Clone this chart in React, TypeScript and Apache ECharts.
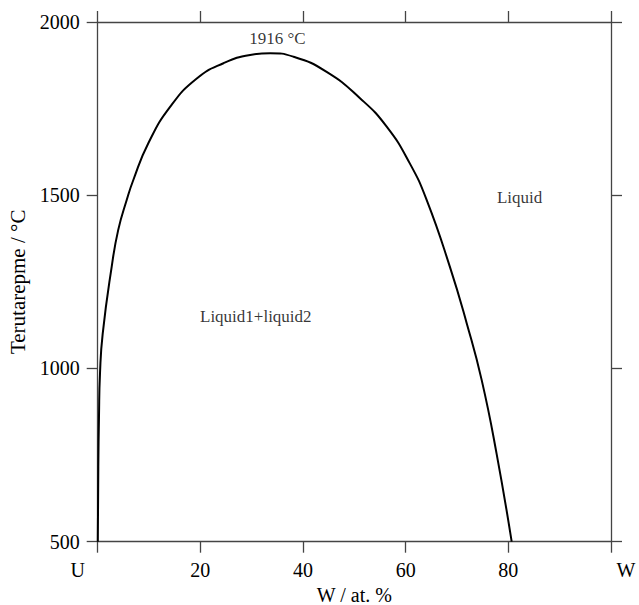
import React, { useEffect, useRef } from "react";
import * as echarts from "echarts";

// Miscibility gap boundary: composition (at.% W) vs temperature (°C)
const gapX = [0.02, 0.12, 0.25, 0.45, 0.97, 2.73, 4.0, 5.65, 6.94, 9.86, 14.1, 19.3, 24.5, 29.7, 33.6, 38.1, 44.6, 51.1, 56.3, 60.8, 64.1, 68.6, 71.9, 74.8, 77.7, 80.65];
const gapT = [500, 716, 860, 986, 1100, 1294, 1400, 1486, 1544, 1650, 1755, 1837, 1881, 1905, 1910, 1900, 1856, 1780, 1698, 1592, 1486, 1294, 1130, 967, 755, 500];

const xTickLabels: Record<number, string> = { 0: "U", 20: "20", 40: "40", 60: "60", 80: "80", 100: "W" };
const yTicks = [500, 1000, 1500, 2000];

const annoText = ["1916 °C", "Liquid1+liquid2", "Liquid"];
const annoX = [35.0, 30.8, 82.2];
const annoT = [1951, 1151, 1494];

const FONT = "'Liberation Serif', 'Times New Roman', serif";
const AXIS_COLOR = "#444";

export default function App() {
  const ref = useRef<HTMLDivElement>(null);
  useEffect(() => {
    if (!ref.current) return;
    document.body.style.margin = "0";
    const chart = echarts.init(ref.current, undefined, { renderer: "svg" });
    const axisLine = { show: true, onZero: false, lineStyle: { color: AXIS_COLOR, width: 1.3 } };
    const axisTick = { show: true, inside: false, length: 11, lineStyle: { color: AXIS_COLOR, width: 1.3 } };
    chart.setOption({
      animation: false,
      grid: { left: 97.7, right: 28, top: 22, bottom: 63.3, containLabel: false, outerBoundsMode: "none" },
      xAxis: [
        {
          type: "value",
          position: "bottom",
          min: 0,
          max: 100,
          interval: 20,
          axisLine,
          axisTick,
          splitLine: { show: false },
          axisLabel: {
            show: true,
            margin: 18,
            color: "#000",
            fontFamily: FONT,
            fontSize: 20,
            formatter: (v: number) => {
              const t = xTickLabels[v] ?? "";
              if (v === 0) return "{u|" + t + "}";
              if (v === 100) return "{w|" + t + "}";
              return t;
            },
            rich: {
              u: { fontFamily: FONT, fontSize: 20, color: "#000", padding: [0, 40, 0, 0] },
              w: { fontFamily: FONT, fontSize: 20, color: "#000", padding: [0, 0, 0, 30] },
            },
          },
          name: "W / at. %",
          nameLocation: "middle",
          nameGap: 41,
          nameTextStyle: { color: "#000", fontFamily: FONT, fontSize: 20 },
        },
        {
          type: "value",
          position: "top",
          min: 0,
          max: 100,
          interval: 20,
          axisLine,
          axisTick,
          axisLabel: { show: false },
          splitLine: { show: false },
        },
      ],
      yAxis: [
        {
          type: "value",
          position: "left",
          min: 500,
          max: 2000,
          interval: 500,
          axisLine,
          axisTick,
          splitLine: { show: false },
          axisLabel: {
            show: true,
            margin: 18,
            color: "#000",
            fontFamily: FONT,
            fontSize: 20,
            formatter: (v: number) => (yTicks.includes(v) ? String(v) : ""),
          },
          name: "Terutarepme / °C",
          nameLocation: "middle",
          nameGap: 67,
          nameTextStyle: { color: "#000", fontFamily: FONT, fontSize: 21 },
        },
        {
          type: "value",
          position: "right",
          min: 500,
          max: 2000,
          interval: 500,
          axisLine,
          axisTick,
          axisLabel: { show: false },
          splitLine: { show: false },
        },
      ],
      series: [
        {
          type: "line",
          data: gapX.map((x, i) => [x, gapT[i]]),
          smooth: 0.5,
          showSymbol: false,
          symbol: "none",
          lineStyle: { color: "#000", width: 2 },
          silent: true,
        },
        {
          type: "scatter",
          data: annoText.map((t, i) => ({ name: t, value: [annoX[i], annoT[i]] })),
          symbolSize: 0,
          silent: true,
          label: {
            show: true,
            position: "inside",
            formatter: (p: any) => p.name,
            color: "#000",
            fontFamily: FONT,
            fontSize: 17,
          },
        },
      ],
    });
    return () => chart.dispose();
  }, []);
  return <div ref={ref} style={{ width: 639, height: 605 }} />;
}
